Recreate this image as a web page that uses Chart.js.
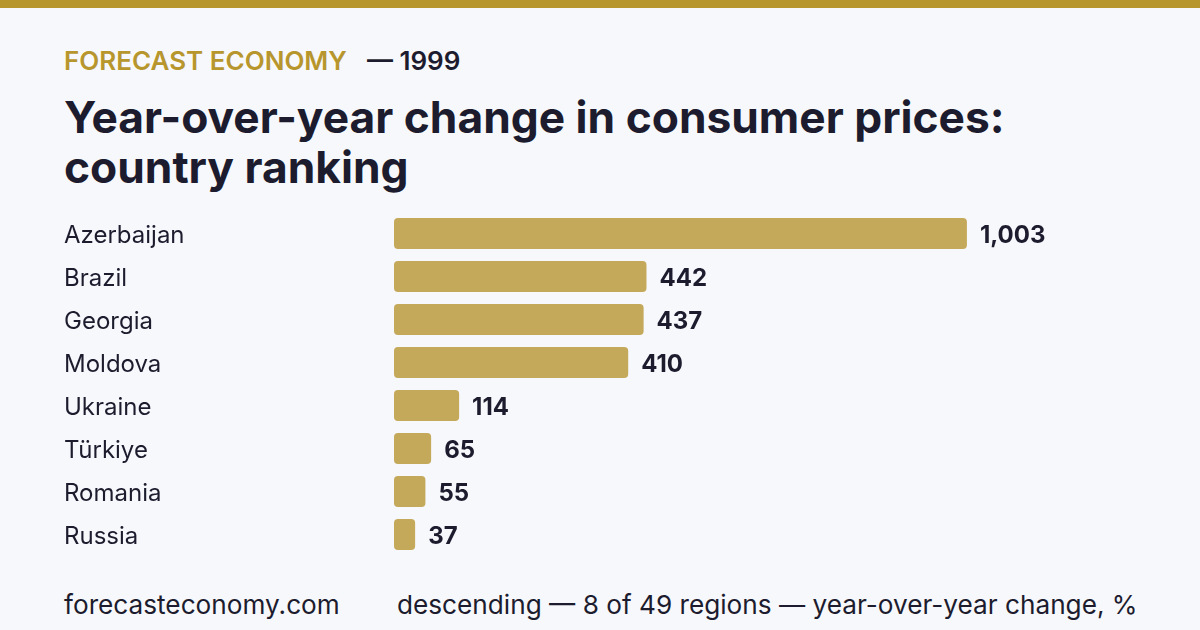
<!DOCTYPE html>
<html lang="en">
<head>
    <meta charset="UTF-8">
    <title>Year-over-year change in consumer prices</title>
    <script src="https://cdn.jsdelivr.net/npm/chart.js@4.4.1/dist/chart.umd.min.js"></script>
    <style>
        html, body {
            margin: 0;
            padding: 0;
        }
        body {
            width: 1200px;
            height: 630px;
            background: #f7f8fc;
            font-family: Inter, "Noto Sans", sans-serif;
            color: #1c1c2e;
            position: relative;
            overflow: hidden;
        }
        .topbar {
            position: absolute;
            left: 0; top: 0;
            width: 1200px; height: 8px;
            background: #b8962e;
        }
        .kicker {
            position: absolute;
            left: 64px; top: 45px;
            font-size: 26px;
            font-weight: 600;
            line-height: 32px;
        }
        .kicker .brand { color: #b8962e; }
        .kicker .year { color: #1c1c2e; margin-left: 20px; }
        h1 {
            position: absolute;
            left: 64px; top: 92px;
            margin: 0;
            font-size: 44.3px;
            font-weight: 700;
            line-height: 50px;
        }
        .chart-box {
            position: absolute;
            left: 64px; top: 212px;
            width: 1080px; height: 344px;
        }
        .footer {
            position: absolute;
            top: 589px;
            font-size: 26.2px;
            line-height: 32px;
        }
    </style>
</head>
<body>
    <div class="topbar"></div>
    <div class="kicker"><span class="brand">FORECAST ECONOMY</span><span class="year">— 1999</span></div>
    <h1>Year-over-year change in consumer prices:<br>country ranking</h1>
    <div class="chart-box">
        <canvas id="rankChart"></canvas>
    </div>
    <div class="footer" style="left:64px;">forecasteconomy.com</div>
    <div class="footer" style="left:397px;">descending — 8 of 49 regions — year-over-year change, %</div>

    <script>
        const countries = ['Azerbaijan', 'Brazil', 'Georgia', 'Moldova', 'Ukraine', 'Türkiye', 'Romania', 'Russia'];
        const changes = [1003, 442, 437, 410, 114, 65, 55, 37];

        // draws the number just past the end of each bar
        const valueLabels = {
            id: 'valueLabels',
            afterDatasetsDraw(chart) {
                const ctx = chart.ctx;
                const meta = chart.getDatasetMeta(0);
                ctx.save();
                ctx.font = '700 24px Inter, sans-serif';
                ctx.fillStyle = '#1c1c2e';
                ctx.textAlign = 'left';
                ctx.textBaseline = 'middle';
                meta.data.forEach((bar, i) => {
                    ctx.fillText(changes[i].toLocaleString('en-US'), bar.x + 13, bar.y + 2.5);
                });
                ctx.restore();
            }
        };

        const ctx = document.getElementById('rankChart').getContext('2d');
        new Chart(ctx, {
            type: 'bar',
            data: {
                labels: countries,
                datasets: [{
                    data: changes,
                    backgroundColor: '#c5a95b',
                    borderRadius: 4,
                    borderSkipped: false,
                    barPercentage: 0.72,
                    categoryPercentage: 1.0
                }]
            },
            options: {
                indexAxis: 'y',
                responsive: true,
                maintainAspectRatio: false,
                animation: false,
                layout: { padding: 0 },
                plugins: {
                    legend: { display: false },
                    tooltip: { enabled: false }
                },
                scales: {
                    x: {
                        display: false,
                        min: 0,
                        max: 1313
                    },
                    y: {
                        afterFit(scale) {
                            scale.width = 330;
                            // no extra room for half labels, rows fill the box
                            scale.paddingTop = 0;
                            scale.paddingBottom = 0;
                        },
                        grid: { display: false },
                        border: { display: false },
                        ticks: {
                            crossAlign: 'far',
                            padding: 0,
                            labelOffset: 2.5,
                            color: '#1c1c2e',
                            font: { family: 'Inter', size: 24, weight: '400' }
                        }
                    }
                }
            },
            plugins: [valueLabels]
        });
    </script>
</body>
</html>
